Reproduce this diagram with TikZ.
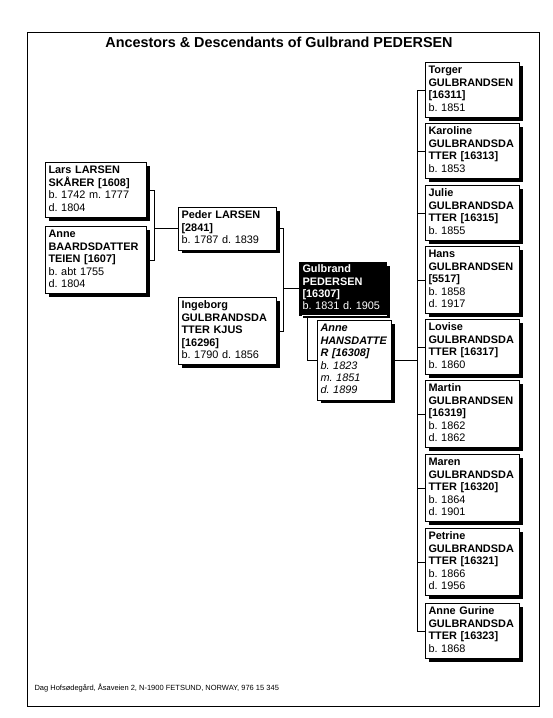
\documentclass[tikz,border=0pt]{standalone}
\usepackage{fontspec}
\setmainfont{Liberation Sans}
\usetikzlibrary{shadows}
\frenchspacing
\newcommand\boxfont{\fontsize{10.9}{12.4}\selectfont\lineskiplimit=-20pt\relax}
\begin{document}
\begin{tikzpicture}[x=1pt,y=-1pt,
  box/.style={draw=black, line width=1pt, fill=white, anchor=north west, align=left,
    inner xsep=3pt, inner ysep=2.7pt, font=\boxfont,
    execute at begin node=\strut, execute at end node=\strut,
    drop shadow={shadow xshift=3pt, shadow yshift=-3pt, fill=black, opacity=1}},
  kid/.style={box, text width=88pt},
  gen1/.style={box, text width=95pt},
  gen2/.style={box, text width=92pt},
  root/.style={box, fill=black, text=white, text width=81pt, inner ysep=1.5pt},
  spouse/.style={box, text width=68pt, font=\boxfont\itshape},
  link/.style={draw=black, line width=1pt}
]
\useasboundingbox (0,0) rectangle (553,718);
\draw[line width=1pt] (27,32) rectangle (539,706);
\node (title) at (279,42) {\fontsize{14.4}{16}\selectfont\bfseries Ancestors \& Descendants of Gulbrand PEDERSEN};
\node[anchor=west] (foot) at (31,688) {\fontsize{7.5}{9}\selectfont Dag Hofsødegård, Åsaveien 2, N-1900 FETSUND, NORWAY, 976 15 345};

% generation 1
\node[gen1] (lars) at (45,162) {\textbf{Lars LARSEN}\\\textbf{SKÅRER [1608]}\\b. 1742 m. 1777\\d. 1804};
\node[gen1] (anneb) at (45,226) {\textbf{Anne}\\\textbf{BAARDSDATTER}\\\textbf{TEIEN [1607]}\\b. abt 1755\\d. 1804};
% generation 2
\node[gen2] (peder) at (178,207) {\textbf{Peder LARSEN}\\\textbf{[2841]}\\b. 1787 d. 1839};
\node[gen2] (ingeborg) at (178,297) {\textbf{Ingeborg}\\\textbf{GULBRANDSDA}\\\textbf{TTER KJUS}\\\textbf{[16296]}\\b. 1790 d. 1856};
% root and spouse
\node[root] (gulbrand) at (299,262) {\textbf{Gulbrand}\\\textbf{PEDERSEN}\\\textbf{[16307]}\\b. 1831 d. 1905};
\draw[white, line width=1pt] ([xshift=3pt]gulbrand.south west) -- (gulbrand.south east);
\node[spouse] (anneh) at (317,320) {\textbf{Anne}\\\textbf{HANSDATTE}\\\textbf{R [16308]}\\b. 1823\\m. 1851\\d. 1899};
% children
\node[kid] (c1) at (425,62) {\textbf{Torger}\\\textbf{GULBRANDSEN}\\\textbf{[16311]}\\b. 1851};
\node[kid] (c2) at (425,123) {\textbf{Karoline}\\\textbf{GULBRANDSDA}\\\textbf{TTER [16313]}\\b. 1853};
\node[kid] (c3) at (425,185) {\textbf{Julie}\\\textbf{GULBRANDSDA}\\\textbf{TTER [16315]}\\b. 1855};
\node[kid] (c4) at (425,246) {\textbf{Hans}\\\textbf{GULBRANDSEN}\\\textbf{[5517]}\\b. 1858\\d. 1917};
\node[kid] (c5) at (425,319) {\textbf{Lovise}\\\textbf{GULBRANDSDA}\\\textbf{TTER [16317]}\\b. 1860};
\node[kid] (c6) at (425,380) {\textbf{Martin}\\\textbf{GULBRANDSEN}\\\textbf{[16319]}\\b. 1862\\d. 1862};
\node[kid] (c7) at (425,454) {\textbf{Maren}\\\textbf{GULBRANDSDA}\\\textbf{TTER [16320]}\\b. 1864\\d. 1901};
\node[kid] (c8) at (425,528) {\textbf{Petrine}\\\textbf{GULBRANDSDA}\\\textbf{TTER [16321]}\\b. 1866\\d. 1956};
\node[kid] (c9) at (425,603) {\textbf{Anne Gurine}\\\textbf{GULBRANDSDA}\\\textbf{TTER [16323]}\\b. 1868};

% junction x positions
\coordinate (jx) at (154,0);
\coordinate (jy) at (283,0);
\coordinate (js) at (307,0);
\coordinate (jc) at (417,0);

\path[link] (lars.east) -- (lars.east -| jx) -- (anneb.east -| jx) -- (anneb.east);
\path[link] (peder.west -| jx) -- (peder.west);
\path[link] (peder.east) -- (peder.east -| jy) -- (ingeborg.east -| jy) -- (ingeborg.east);
\path[link] (gulbrand.west -| jy) -- (gulbrand.west);
\path[link] (gulbrand.south -| js) -- (anneh.west -| js) -- (anneh.west);
\path[link] (anneh.east) -- (anneh.east -| jc);
\path[link] (c1.west -| jc) -- (c9.west -| jc);
\foreach \c in {c1,c2,c3,c4,c5,c6,c7,c8,c9} {
  \path[link] (\c.west -| jc) -- (\c.west);
}
\end{tikzpicture}
\end{document}
